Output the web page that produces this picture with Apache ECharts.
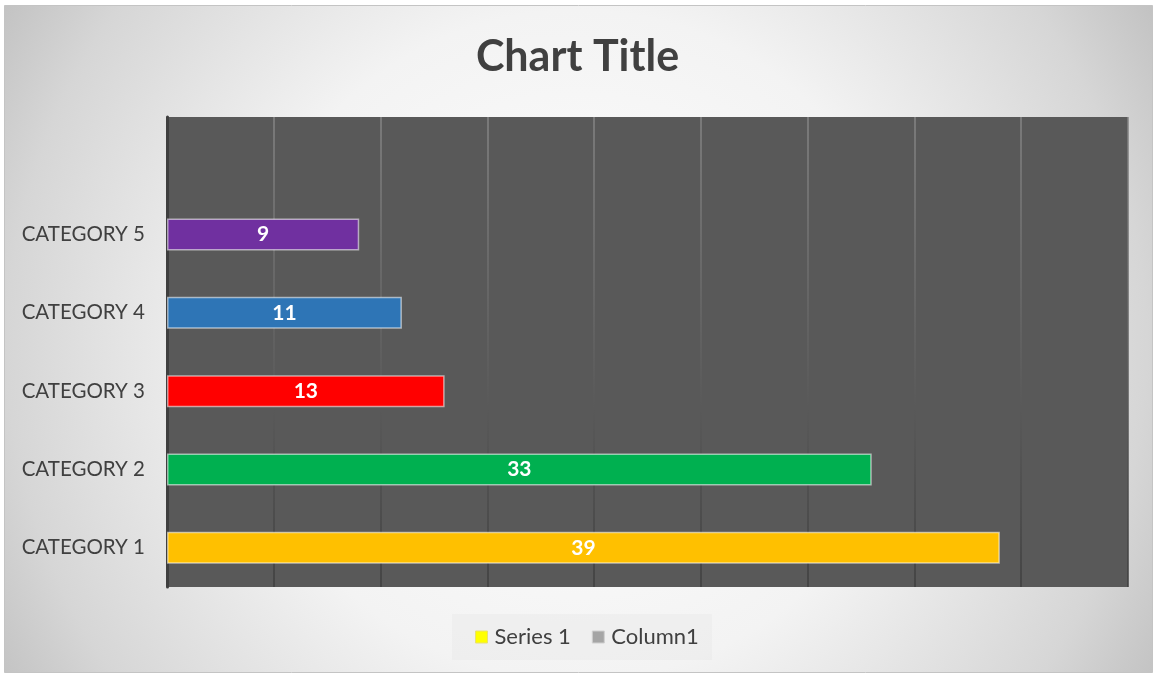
<!DOCTYPE html>
<html>
<head>
<meta charset="utf-8">
<script src="https://cdn.jsdelivr.net/npm/echarts@6/dist/echarts.min.js"></script>
<style>html,body{margin:0;padding:0;background:#fff}#c{width:1155px;height:674px}</style>
</head>
<body>
<div id="c"></div>
<script>
const categories = ['CATEGORY 1', 'CATEGORY 2', 'CATEGORY 3', 'CATEGORY 4', 'CATEGORY 5', ''];
const series1Values = [39, 33, 13, 11, 9, null];
const column1Values = [null, null, null, null, null, null];
const barColors = ['#FFC000', '#00B050', '#FF0000', '#2E75B6', '#7030A0', '#FFFF00'];
const seriesNames = ['Series 1', 'Column1'];
const axisMin = 0, axisMax = 45, axisStep = 5;

const chart = echarts.init(document.getElementById('c'));
const FONT = 'Lato';
chart.setOption({
  animation: false,
  graphic: [
    {
      type: 'rect', z: -10, silent: true,
      shape: { x: 4.5, y: 5.5, width: 1148, height: 667 },
      style: {
        fill: new echarts.graphic.RadialGradient(577, 345, 670, [
          { offset: 0, color: '#ffffff' },
          { offset: 0.5, color: '#f3f3f3' },
          { offset: 0.85, color: '#d6d6d6' },
          { offset: 1, color: '#c2c2c2' }
        ], true),
        stroke: '#c4c4c4', lineWidth: 1
      }
    }
  ],
  title: {
    text: 'Chart Title',
    left: 'center',
    top: 31,
    textStyle: { fontFamily: FONT, fontSize: 43, fontWeight: 'bold', color: '#404040' }
  },
  legend: {
    data: [
      { name: seriesNames[0], itemStyle: { color: '#FFFF00', borderColor: '#e8e070', borderWidth: 1 } },
      { name: seriesNames[1], itemStyle: { color: '#A5A5A5', borderColor: '#d0d0d0', borderWidth: 1 } }
    ],
    top: 614,
    left: 452,
    icon: 'rect',
    itemWidth: 12,
    itemHeight: 12,
    itemGap: 21,
    padding: [12, 13, 12, 23],
    backgroundColor: 'rgba(225,225,225,0.25)',
    textStyle: { fontFamily: FONT, fontSize: 22, color: '#404040', padding: [0, 0, 0, 2] }
  },
  grid: {
    left: 167, right: 27, top: 117, bottom: 87,
    show: true, backgroundColor: '#595959', borderWidth: 0
  },
  xAxis: {
    type: 'value', min: axisMin, max: axisMax, interval: axisStep,
    axisLabel: { show: false }, axisLine: { show: false }, axisTick: { show: false },
    splitLine: {
      show: true,
      lineStyle: {
        width: 1.5,
        color: new echarts.graphic.LinearGradient(0, 117, 0, 587, [
          { offset: 0, color: '#858585' },
          { offset: 1, color: '#3e3e3e' }
        ], true)
      }
    }
  },
  yAxis: {
    type: 'category', data: categories,
    axisLine: { show: true, lineStyle: { color: '#3f3f3f', width: 3 } },
    axisTick: { show: false },
    axisLabel: { margin: 22, fontFamily: FONT, fontSize: 20.5, color: '#404040' },
    splitLine: { show: false }
  },
  series: [
    {
      name: seriesNames[0], type: 'bar', stack: 's', barWidth: 32,
      itemStyle: { color: '#FFFF00' },
      data: series1Values.map((v, i) => ({
        value: v,
        itemStyle: { color: barColors[i], borderColor: 'rgba(255,255,255,0.55)', borderWidth: 1.5 }
      })),
      label: {
        show: true, position: 'inside', color: '#ffffff',
        fontFamily: FONT, fontSize: 21, fontWeight: 'bold'
      }
    },
    {
      name: seriesNames[1], type: 'bar', stack: 's', barWidth: 32,
      itemStyle: { color: '#A5A5A5' },
      data: column1Values
    }
  ]
});
</script>
</body>
</html>
